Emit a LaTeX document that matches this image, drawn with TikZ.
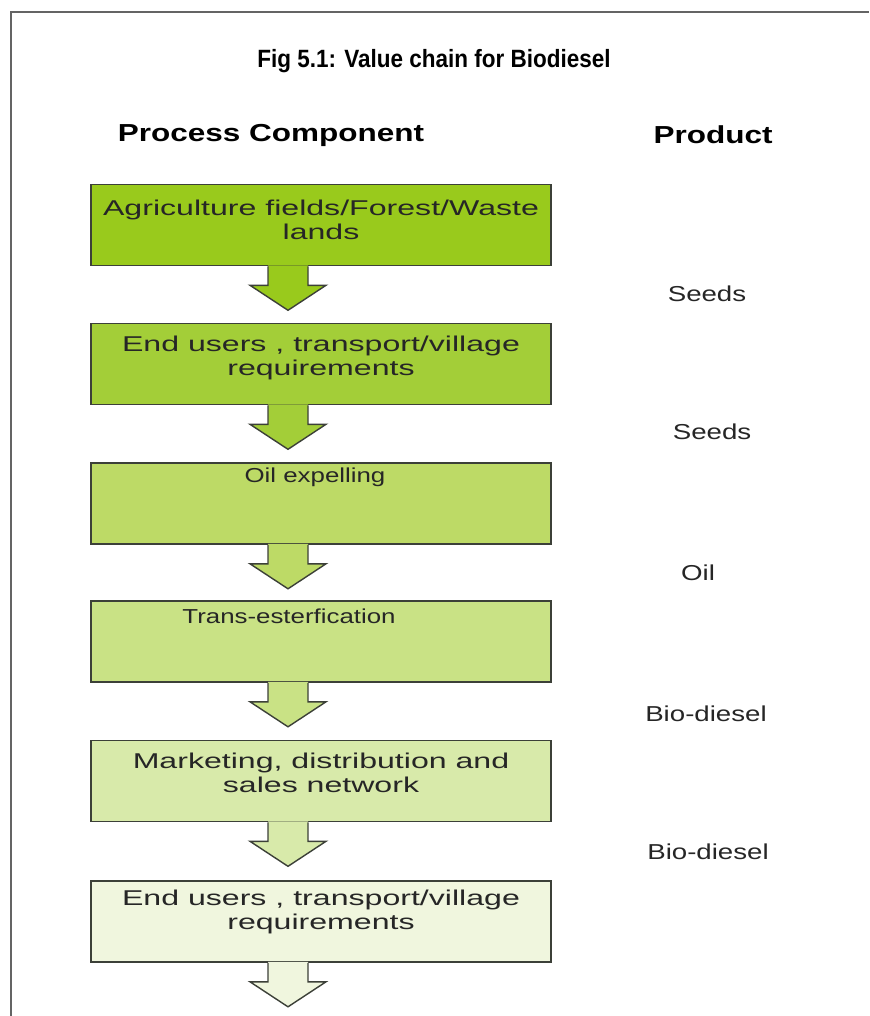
\documentclass[tikz,border=0pt]{standalone}
\usepackage{fontspec}
\setmainfont{Liberation Sans}
\newfontfamily\diagfont[FakeStretch=1.28]{Liberation Sans}
\newfontfamily\widefont[FakeStretch=1.5]{Liberation Sans}
\newfontfamily\titlefont[FakeStretch=0.9]{Liberation Sans}
\usetikzlibrary{calc}
\definecolor{cA}{RGB}{153,202,28}
\definecolor{cB}{RGB}{163,206,56}
\definecolor{cC}{RGB}{189,218,102}
\definecolor{cD}{RGB}{201,226,133}
\definecolor{cE}{RGB}{216,234,170}
\definecolor{cF}{RGB}{240,246,222}
\definecolor{edge}{RGB}{60,64,56}
\definecolor{framegray}{RGB}{100,100,100}
\newcommand\flowarrow[2]{%
  \coordinate (#1a) at ($(#1.south)+(-33,0)$);
  \fill[#2] ($(#1a)+(-20,-1)$) -- ($(#1a)+(-20,19)$) -- ($(#1a)+(-38,19)$) -- ($(#1a)+(0,44)$)
     -- ($(#1a)+(38,19)$) -- ($(#1a)+(20,19)$) -- ($(#1a)+(20,-1)$) -- cycle;
  \draw[arrline] ($(#1a)+(-20,0)$) -- ($(#1a)+(-20,19)$) -- ($(#1a)+(-38,19)$) -- ($(#1a)+(0,44)$)
     -- ($(#1a)+(38,19)$) -- ($(#1a)+(20,19)$) -- ($(#1a)+(20,0)$);
}
\begin{document}
\begin{tikzpicture}[x=0.5pt,y=-0.5pt,
  box/.style={draw=edge, line width=0.8pt, rectangle, minimum width=230pt, minimum height=40.5pt, inner sep=0pt},
  boxtext/.style={align=center, inner sep=0pt, font=\widefont\fontsize{10.7}{12.25}\selectfont, text=black!85},
  onetext/.style={align=center, inner sep=0pt, font=\diagfont\fontsize{10.1}{12.25}\selectfont, text=black!85},
  prod/.style={inner sep=0pt, font=\diagfont\fontsize{10.8}{12}\selectfont, text=black!85},
  hdr/.style={inner sep=0pt, font=\diagfont\bfseries\fontsize{12.3}{14}\selectfont},
  arrline/.style={draw=edge, line width=0.7pt, line join=miter}]
\useasboundingbox (0,0) rectangle (869,1016);
\fill[white] (0,0) rectangle (869,1016);
\draw[framegray, line width=1.3pt] (11,1016) -- (11,12) -- (869,12);

\node[font=\titlefont\bfseries\fontsize{12.5}{14}\selectfont, inner sep=0pt] (title) at (434,61) {Fig 5.1: Value chain for Biodiesel};
\node[hdr] (h1) at (271,135) {Process Component};
\node[hdr] (h2) at (713,135) {Product};

\node[box, fill=cA] (b1) at (321,225) {};
\node[box, fill=cB] (b2) at (321,364) {};
\node[box, fill=cC] (b3) at (321,503.5) {};
\node[box, fill=cD] (b4) at (321,641.5) {};
\node[box, fill=cE] (b5) at (321,781) {};
\node[box, fill=cF] (b6) at (321,921.5) {};

\flowarrow{b1}{cA}
\flowarrow{b2}{cB}
\flowarrow{b3}{cC}
\flowarrow{b4}{cD}
\flowarrow{b5}{cE}
\flowarrow{b6}{cF}

\node[boxtext] (t1) at (321,220) {Agriculture fields/Forest/Waste\\lands};
\node[boxtext] (t2) at (321,358) {End users , transport/village\\requirements};
\node[onetext] (t3) at (315,477) {Oil expelling};
\node[onetext] (t4) at (289,616) {Trans-esterfication};
\node[boxtext] (t5) at (321,773) {Marketing, distribution and\\sales network};
\node[boxtext] (t6) at (321,912) {End users , transport/village\\requirements};

\node[prod] (p1) at (707,294) {Seeds};
\node[prod] (p2) at (712,432) {Seeds};
\node[prod] (p3) at (698,573) {Oil};
\node[prod] (p4) at (706,714) {Bio-diesel};
\node[prod] (p5) at (708,852) {Bio-diesel};
\end{tikzpicture}
\end{document}
